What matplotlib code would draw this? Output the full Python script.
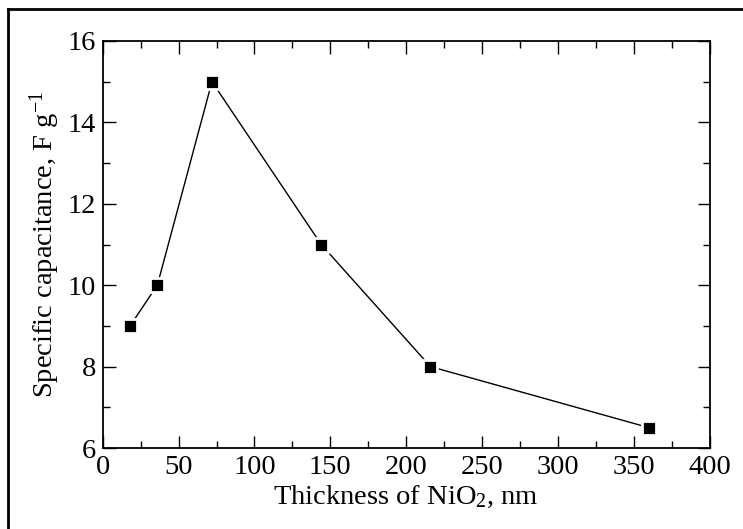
import matplotlib
matplotlib.use("Agg")
import matplotlib.pyplot as plt
from matplotlib.lines import Line2D
from matplotlib.ticker import MultipleLocator

# data
thickness = [18, 36, 72, 144, 216, 360]
capacitance = [9.0, 10.0, 15.0, 11.0, 8.0, 6.5]

plt.rcParams['font.family'] = ['Liberation Serif', 'DejaVu Serif']
plt.rcParams['mathtext.fontset'] = 'custom'
plt.rcParams['mathtext.rm'] = 'Liberation Serif'
plt.rcParams['mathtext.it'] = 'Liberation Serif:italic'

W, H = 743, 529
fig = plt.figure(figsize=(W / 100, H / 100), dpi=100)
ax = fig.add_axes([102.7 / W, 1 - 448 / H, 607 / W, 407 / H])

ax.plot(thickness, capacitance, color='black', lw=1.0,
        marker='s', markersize=10, markerfacecolor='black',
        markeredgecolor='white', markeredgewidth=2.0)

ax.set_xlim(0, 400)
ax.set_ylim(6, 16)
ax.xaxis.set_major_locator(MultipleLocator(50))
ax.xaxis.set_minor_locator(MultipleLocator(25))
ax.yaxis.set_major_locator(MultipleLocator(2))
ax.yaxis.set_minor_locator(MultipleLocator(1))
ax.tick_params(which='both', direction='in', top=True, right=True,
               labelsize=20.5, width=1.0, pad=5)
ax.tick_params(which='major', length=9)
ax.tick_params(which='minor', length=5)
for s in ax.spines.values():
    s.set_linewidth(1.3)

ax.set_xlabel(r'Thickness of NiO$_2$, nm', fontsize=20.5, labelpad=3)
ax.set_ylabel(r'Specific capacitance, F g$^{-1}$', fontsize=20.5, labelpad=4)

# outer frame (top and left edges visible in the reference)
fig.add_artist(Line2D([8 / W, 8 / W], [0, 1 - 9 / H], transform=fig.transFigure,
                      color='black', lw=2))
fig.add_artist(Line2D([8 / W, 1], [1 - 9 / H, 1 - 9 / H], transform=fig.transFigure,
                      color='black', lw=2))

fig.savefig('out.png', dpi=100)
